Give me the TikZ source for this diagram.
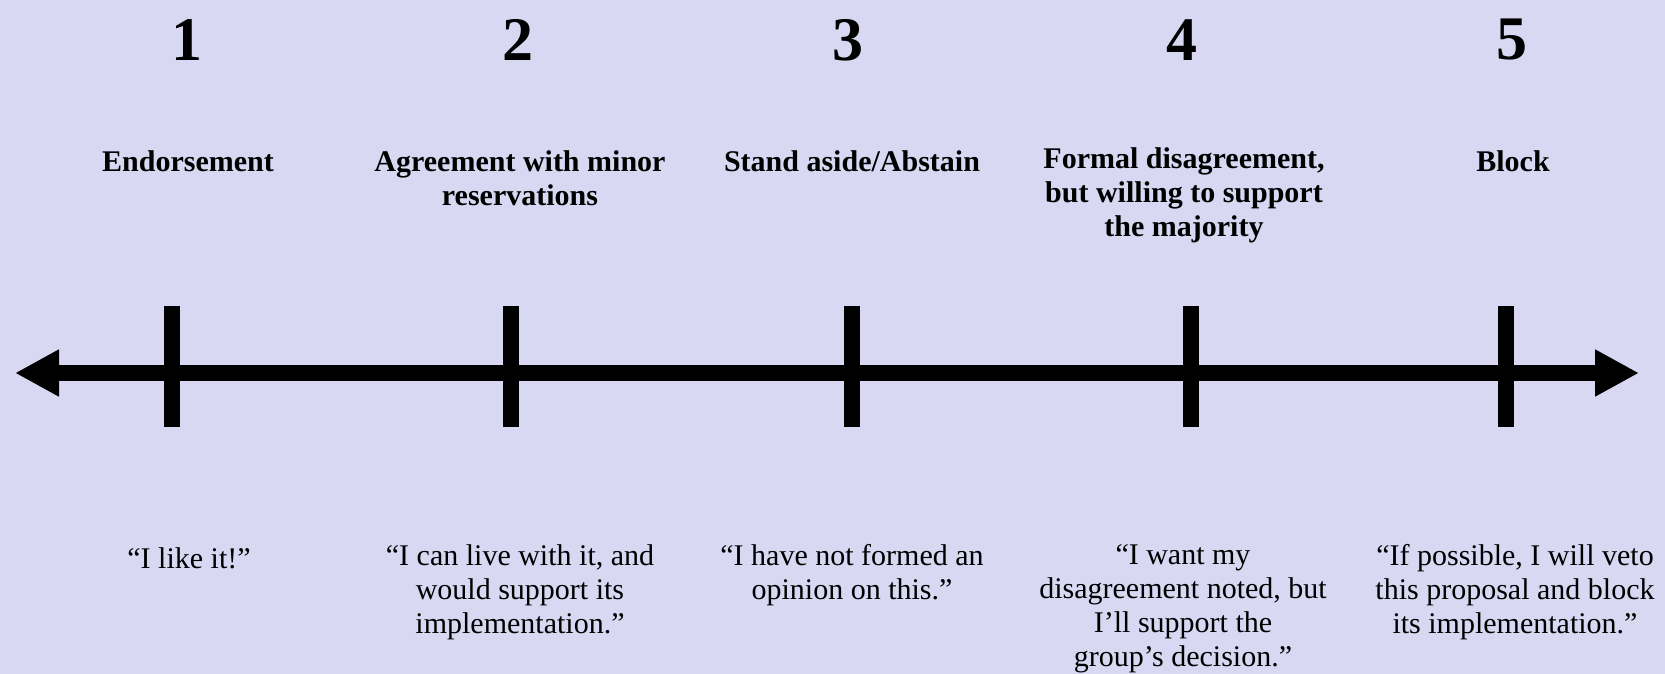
\documentclass[tikz,border=0pt]{standalone}
\usepackage{fontspec}
\setmainfont{Liberation Serif}
\usetikzlibrary{arrows.meta}
\definecolor{bgpaper}{RGB}{216,216,242}
\begin{document}
\begin{tikzpicture}[x=1pt,y=-1pt,
  numlab/.style={font=\bfseries\fontsize{62}{62}\selectfont, inner sep=0pt},
  headlab/.style={font=\bfseries\fontsize{30}{34}\selectfont, align=center, inner sep=0pt},
  quotelab/.style={font=\fontsize{30}{34}\selectfont, align=center, inner sep=0pt},
  axisline/.style={line width=16pt, {Triangle[length=44pt,width=44pt]}-{Triangle[length=44pt,width=44pt]}},
  tickmark/.style={line width=16pt}]
\fill[bgpaper] (0,0) rectangle (1665,674);
\useasboundingbox (0,0) rectangle (1665,674);

% axis
\coordinate (aL) at (15,373);
\coordinate (aR) at (1639,373);
\draw[axisline] (aL) -- (aR);

% ticks
\foreach \n/\x in {1/172,2/511,3/852,4/1191,5/1506}{
  \coordinate (t\n top) at (\x,306);
  \coordinate (t\n bot) at (\x,427);
  \draw[tickmark] (t\n top) -- (t\n bot);
}

% numbers
\node[numlab] (n1) at (187,40) {1};
\node[numlab] (n2) at (518,40) {2};
\node[numlab] (n3) at (848,40) {3};
\node[numlab] (n4) at (1182,40) {4};
\node[numlab] (n5) at (1512,40) {5};

% headings
\node[headlab] (h1) at (188,161) {Endorsement};
\node[headlab] (h2) at (520,178) {Agreement with minor\\reservations};
\node[headlab] (h3) at (852,161) {Stand aside/Abstain};
\node[headlab] (h4) at (1184,195) {Formal disagreement,\\but willing to support\\the majority};
\node[headlab] (h5) at (1513,161) {Block};

% quotes
\node[quotelab] (q1) at (189,558) {“I like it!”};
\node[quotelab] (q2) at (520,592) {“I can live with it, and\\would support its\\implementation.”};
\node[quotelab] (q3) at (852,575) {“I have not formed an\\opinion on this.”};
\node[quotelab] (q4) at (1183,609) {“I want my\\disagreement noted, but\\I’ll support the\\group’s decision.”};
\node[quotelab] (q5) at (1515,592) {“If possible, I will veto\\this proposal and block\\its implementation.”};
\end{tikzpicture}
\end{document}
